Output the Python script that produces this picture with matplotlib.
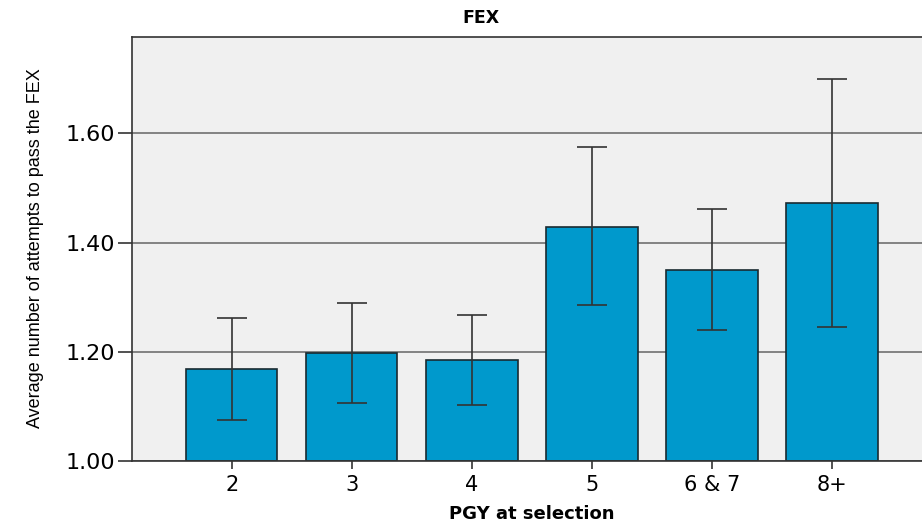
import matplotlib.pyplot as plt

# --- Data ---
categories = ["2", "3", "4", "5", "6 & 7", "8+"]
means = [1.169, 1.198, 1.185, 1.429, 1.350, 1.472]
ci_low = [1.075, 1.106, 1.103, 1.286, 1.239, 1.246]
ci_high = [1.261, 1.290, 1.268, 1.574, 1.461, 1.699]
y_ticks = [1.00, 1.20, 1.40, 1.60]

# --- Figure ---
fig = plt.figure(figsize=(9.22, 5.23), dpi=100)
ax = fig.add_axes([0.143, 0.1185, 0.857, 0.8105])
ax.set_facecolor("#f0f0f0")

x = list(range(len(categories)))
err = [[m - lo for m, lo in zip(means, ci_low)],
       [hi - m for m, hi in zip(means, ci_high)]]

ax.set_axisbelow(True)
ax.yaxis.grid(True, color="#707070", linewidth=1.2)
ax.bar(x, [m - 1.0 for m in means], bottom=1.0, width=0.76,
       color="#0099cc", edgecolor="#1a2a30", linewidth=1.2, zorder=2)
ax.errorbar(x, means, yerr=err, fmt="none", ecolor="#333333",
            elinewidth=1.2, capsize=11, capthick=1.2, zorder=3)

ax.set_xlim(-0.833, 5.75)
ax.set_ylim(1.0, 1.776)
ax.set_yticks(y_ticks)
ax.set_yticklabels([f"{v:.2f}" for v in y_ticks], family="DejaVu Sans", fontsize=16)
ax.set_xticks(x)
ax.set_xticklabels(categories, family="DejaVu Sans", fontsize=15)

ax.tick_params(axis="y", length=10, width=1.2, color="#333333", pad=2)
ax.tick_params(axis="x", length=6, width=1.2, color="#333333", pad=4)

for side in ["left", "top", "bottom"]:
    ax.spines[side].set_color("#333333")
    ax.spines[side].set_linewidth(1.2)
ax.spines["right"].set_visible(False)

fig.text(0.522, 0.965, "FEX", ha="center", va="center",
         family="DejaVu Sans", fontsize=12.5, fontweight="bold")
fig.text(0.577, 0.018, "PGY at selection", ha="center", va="center",
         family="DejaVu Sans", fontsize=13, fontweight="bold")
fig.text(0.038, 0.525, "Average number of attempts to pass the FEX", ha="center",
         va="center", rotation=90, family="Liberation Sans", fontsize=13)

fig.savefig("out.png", dpi=100)
